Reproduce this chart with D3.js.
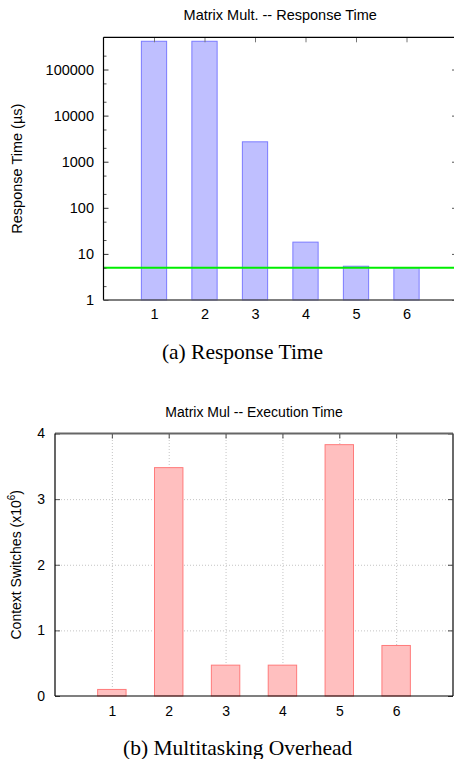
<!DOCTYPE html>
<html>
<head>
<meta charset="utf-8">
<script src="https://cdn.jsdelivr.net/npm/d3@7"></script>
<style>
  html, body { margin: 0; padding: 0; background: #fff; }
  svg { display: block; }
  .g { font-family: "Liberation Sans", Arial, sans-serif; fill: #000; }
  .cap { font-family: "Liberation Serif", "Times New Roman", serif; fill: #000; }
</style>
</head>
<body>
<script>
// ---------- data ----------
const categories = [1, 2, 3, 4, 5, 6];
const responseTime = [410000, 410000, 2700, 18, 5.4, 5.0];   // µs
const responseThreshold = 5;
const responseTicks = [1, 10, 100, 1000, 10000, 100000];
const responseMinorTicks = [2, 5, 20, 50, 200, 500, 2000, 5000, 20000, 50000, 200000];
const contextSwitches = [0.10, 3.48, 0.47, 0.47, 3.83, 0.77];  // x10^6
const contextTicks = [0, 1, 2, 3, 4];

const W = 454, H = 759;
const svg = d3.select("body").append("svg").attr("width", W).attr("height", H);

// ================= (a) Response Time =================
{
  const L = 103.5, R = 457, T = 37.3, B = 300;
  const x = d3.scaleLinear().domain([0, 7]).range([L, R]);
  const y = d3.scaleLog().domain([1, 500000]).range([B, T]);
  const g = svg.append("g");
  const bw = x(0.5) - x(0);

  g.selectAll("rect.bar").data(categories).join("rect")
    .attr("class", "bar")
    .attr("x", (d) => x(d) - bw / 2)
    .attr("width", bw)
    .attr("y", (d, i) => y(responseTime[i]))
    .attr("height", (d, i) => B - y(responseTime[i]))
    .attr("fill", "#bfbfff")
    .attr("stroke", "#7b7bff")
    .attr("stroke-width", 1);

  // threshold line
  g.append("line")
    .attr("x1", L).attr("x2", R)
    .attr("y1", y(responseThreshold)).attr("y2", y(responseThreshold))
    .attr("stroke", "#00ee00").attr("stroke-width", 2);

  // axes
  const ax = g.append("g").attr("transform", `translate(${L},0)`)
    .call(d3.axisLeft(y).tickValues(responseTicks).tickFormat(d3.format("d"))
      .tickSize(-5).tickSizeOuter(0).tickPadding(9.5));
  ax.select(".domain").remove();
  ax.selectAll("text").attr("class", "g").style("font-size", "14.5px")
    .attr("font-family", null).attr("fill", "#000");
  ax.selectAll("line").attr("stroke", "#333");

  const axm = g.append("g").attr("transform", `translate(${L},0)`)
    .call(d3.axisLeft(y).tickValues(responseMinorTicks).tickFormat("").tickSize(-3).tickSizeOuter(0));
  axm.select(".domain").remove();
  axm.selectAll("line").attr("stroke", "#555");

  const axr = g.append("g").attr("transform", `translate(${R},0)`)
    .call(d3.axisRight(y).tickValues(responseTicks).tickFormat("").tickSize(-5).tickSizeOuter(0));
  axr.select(".domain").remove();
  axr.selectAll("line").attr("stroke", "#555");

  const axt = g.append("g").attr("transform", `translate(0,${T})`)
    .call(d3.axisTop(x).tickValues(categories).tickFormat("").tickSize(-5).tickSizeOuter(0));
  axt.select(".domain").remove();
  axt.selectAll("line").attr("stroke", "#777");

  const axb = g.append("g").attr("transform", `translate(0,${B})`)
    .call(d3.axisBottom(x).tickValues(categories).tickFormat(d3.format("d"))
      .tickSize(0).tickSizeOuter(0).tickPadding(9));
  axb.select(".domain").remove();
  axb.selectAll("text").attr("class", "g").style("font-size", "14.5px")
    .attr("font-family", null).attr("fill", "#000");

  // frame
  g.append("line").attr("x1", L).attr("x2", R).attr("y1", T).attr("y2", T).attr("stroke", "#000").attr("stroke-width", 1.2);
  g.append("line").attr("x1", L).attr("x2", L).attr("y1", T).attr("y2", B).attr("stroke", "#000").attr("stroke-width", 1.2);
  g.append("line").attr("x1", L).attr("x2", R).attr("y1", B).attr("y2", B).attr("stroke", "#555").attr("stroke-width", 1.5);

  // title & labels
  svg.append("text").attr("class", "g").attr("x", (L + R) / 2).attr("y", 20)
    .attr("text-anchor", "middle").style("font-size", "14.5px")
    .text("Matrix Mult. -- Response Time");
  svg.append("text").attr("class", "g")
    .attr("transform", `translate(22,${(T + B) / 2}) rotate(-90)`)
    .attr("text-anchor", "middle").style("font-size", "14.5px")
    .text("Response Time (µs)");
  svg.append("text").attr("class", "cap").attr("x", 242.5).attr("y", 359)
    .attr("text-anchor", "middle").style("font-size", "21.5px")
    .text("(a) Response Time");
}

// ================= (b) Multitasking Overhead =================
{
  const L = 55, R = 453, T = 433.5, B = 696;
  const x = d3.scaleLinear().domain([0, 7]).range([L, R]);
  const y = d3.scaleLinear().domain([0, 4]).range([B, T]);
  const g = svg.append("g");
  const bw = x(0.5) - x(0);

  // grid
  const gx = g.append("g").attr("transform", `translate(0,${B})`)
    .call(d3.axisBottom(x).tickValues(categories).tickFormat("").tickSize(-(B - T)).tickSizeOuter(0));
  gx.select(".domain").remove();
  gx.selectAll("line").attr("stroke", "#c4c4c4").attr("stroke-dasharray", "1,2");
  const gy = g.append("g").attr("transform", `translate(${L},0)`)
    .call(d3.axisLeft(y).tickValues([1, 2, 3]).tickFormat("").tickSize(-(R - L)).tickSizeOuter(0));
  gy.select(".domain").remove();
  gy.selectAll("line").attr("stroke", "#c4c4c4").attr("stroke-dasharray", "1,2");

  g.selectAll("rect.bar").data(categories).join("rect")
    .attr("class", "bar")
    .attr("x", (d) => x(d) - bw / 2)
    .attr("width", bw)
    .attr("y", (d, i) => y(contextSwitches[i]))
    .attr("height", (d, i) => B - y(contextSwitches[i]))
    .attr("fill", "#ffbfbf")
    .attr("stroke", "#ff7b7b")
    .attr("stroke-width", 1);

  const ax = g.append("g").attr("transform", `translate(${L},0)`)
    .call(d3.axisLeft(y).tickValues(contextTicks).tickFormat(d3.format("d"))
      .tickSize(-5).tickSizeOuter(0).tickPadding(10));
  ax.select(".domain").remove();
  ax.selectAll("text").attr("class", "g").style("font-size", "14px")
    .attr("font-family", null).attr("fill", "#000");
  ax.selectAll("line").attr("stroke", "#555");

  const axr = g.append("g").attr("transform", `translate(${R},0)`)
    .call(d3.axisRight(y).tickValues(contextTicks).tickFormat("").tickSize(-5).tickSizeOuter(0));
  axr.select(".domain").remove();
  axr.selectAll("line").attr("stroke", "#444");

  const axt = g.append("g").attr("transform", `translate(0,${T})`)
    .call(d3.axisTop(x).tickValues(categories).tickFormat("").tickSize(-5).tickSizeOuter(0));
  axt.select(".domain").remove();
  axt.selectAll("line").attr("stroke", "#444");

  const axb = g.append("g").attr("transform", `translate(0,${B})`)
    .call(d3.axisBottom(x).tickValues(categories).tickFormat(d3.format("d"))
      .tickSize(0).tickSizeOuter(0).tickPadding(10));
  axb.select(".domain").remove();
  axb.selectAll("text").attr("class", "g").style("font-size", "14px")
    .attr("font-family", null).attr("fill", "#000");

  // frame
  g.append("line").attr("x1", L).attr("x2", R).attr("y1", T).attr("y2", T).attr("stroke", "#666").attr("stroke-width", 2);
  g.append("line").attr("x1", R).attr("x2", R).attr("y1", T).attr("y2", B).attr("stroke", "#444").attr("stroke-width", 1.6);
  g.append("line").attr("x1", L).attr("x2", L).attr("y1", T).attr("y2", B).attr("stroke", "#000").attr("stroke-width", 1.2);
  g.append("line").attr("x1", L).attr("x2", R).attr("y1", B).attr("y2", B).attr("stroke", "#000").attr("stroke-width", 1.2);

  svg.append("text").attr("class", "g").attr("x", (L + R) / 2).attr("y", 416.7)
    .attr("text-anchor", "middle").style("font-size", "14px")
    .text("Matrix Mul -- Execution Time");
  const yl = svg.append("text").attr("class", "g")
    .attr("transform", `translate(20.5,${(T + B) / 2}) rotate(-90)`)
    .attr("text-anchor", "middle").style("font-size", "14px");
  yl.append("tspan").text("Context Switches (x10");
  yl.append("tspan").attr("dy", -6).style("font-size", "10px").text("6");
  yl.append("tspan").attr("dy", 6).text(")");
  svg.append("text").attr("class", "cap").attr("x", 237.7).attr("y", 755)
    .attr("text-anchor", "middle").style("font-size", "21.5px")
    .text("(b) Multitasking Overhead");
}
</script>
</body>
</html>
